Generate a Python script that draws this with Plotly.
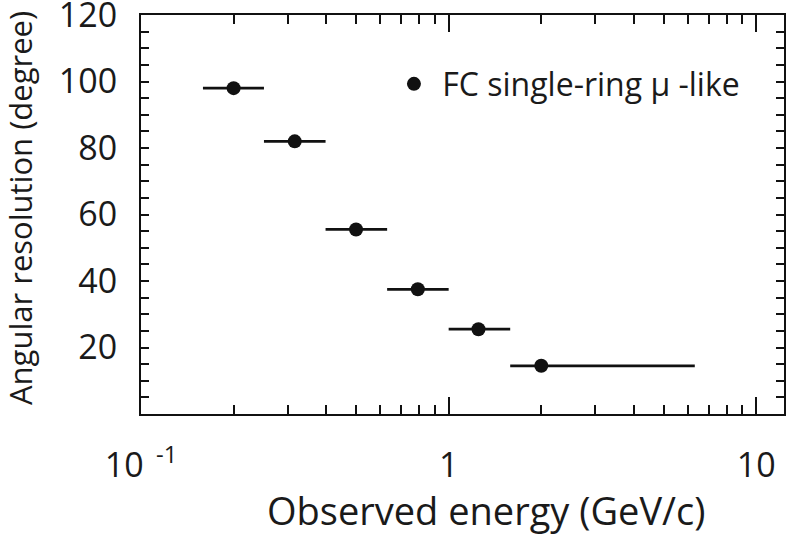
import plotly.graph_objects as go

# Data
energy = [0.2, 0.316, 0.5, 0.794, 1.25, 2.0]
energy_low = [0.159, 0.251, 0.398, 0.631, 1.0, 1.585]
energy_high = [0.251, 0.398, 0.631, 1.0, 1.585, 6.31]
resolution = [98, 82, 55.5, 37.5, 25.5, 14.5]
series_name = "FC single-ring \u03bc -like"

x_tickvals = [0.1, 1, 10]
x_ticktext = ["10<sup>\u00a0\u00a0-1</sup>", "1", "10"]
x_minor = [0.2, 0.3, 0.4, 0.5, 0.6, 0.7, 0.8, 0.9, 2, 3, 4, 5, 6, 7, 8, 9]
y_tickvals = [20, 40, 60, 80, 100, 120]

err_plus = [h - x for h, x in zip(energy_high, energy)]
err_minus = [x - l for l, x in zip(energy_low, energy)]

FONT = "Open Sans"
INK = "#111111"
TXT = "#1a1a1a"

fig = go.Figure()
fig.add_trace(go.Scatter(
    x=energy, y=resolution, mode="markers",
    name="\u00a0" + series_name,
    marker=dict(size=14, color=INK),
    error_x=dict(type="data", symmetric=False, array=err_plus, arrayminus=err_minus,
                 width=0, thickness=2.7, color=INK),
))

fig.update_layout(
    width=787, height=536,
    margin=dict(l=141, r=3, t=15, b=122),
    paper_bgcolor="white", plot_bgcolor="white",
    font=dict(family=FONT, color=TXT, size=24),
    showlegend=True,
    legend=dict(x=0.3934, y=0.827, xanchor="left", yanchor="middle",
                bgcolor="rgba(0,0,0,0)", font=dict(size=32, family=FONT)),
    annotations=[
        dict(text="Angular resolution (degree)", textangle=-90,
             xref="paper", yref="paper", x=(20 - 141) / 643, y=(414 - 208) / 399,
             xanchor="center", yanchor="middle", showarrow=False,
             font=dict(size=31, family=FONT, color=TXT)),
        dict(text="Observed energy (GeV/c)",
             xref="paper", yref="paper", x=(486 - 141) / 643, y=(414 - 510) / 399,
             xanchor="center", yanchor="middle", showarrow=False,
             font=dict(size=38, family=FONT, color=TXT)),
    ],
)

fig.update_xaxes(
    type="log", range=[-1, 1.09], automargin=False,
    showline=True, linewidth=2, linecolor=INK, mirror="allticks",
    showgrid=False, zeroline=False,
    ticks="inside", ticklen=17, tickwidth=2, tickcolor=INK,
    tickvals=x_tickvals, ticktext=x_ticktext,
    tickfont=dict(size=34),
    ticklabelstandoff=20,
    ticklabeloverflow="allow",
    minor=dict(tickvals=x_minor, ticks="inside", ticklen=9, tickwidth=2,
               tickcolor=INK, showgrid=False),
)

fig.update_yaxes(
    range=[0, 120], automargin=False,
    showline=True, linewidth=2, linecolor=INK, mirror="allticks",
    showgrid=False, zeroline=False,
    ticks="inside", ticklen=8, tickwidth=2, tickcolor=INK,
    tickvals=y_tickvals,
    tickfont=dict(size=34),
    ticklabelstandoff=15,
    ticklabeloverflow="allow",
    minor=dict(dtick=5, ticks="inside", ticklen=8, tickwidth=2,
               tickcolor=INK, showgrid=False),
)

fig.write_html("out.html", config={"displayModeBar": False},
               post_script="document.body.style.margin='0px';")
